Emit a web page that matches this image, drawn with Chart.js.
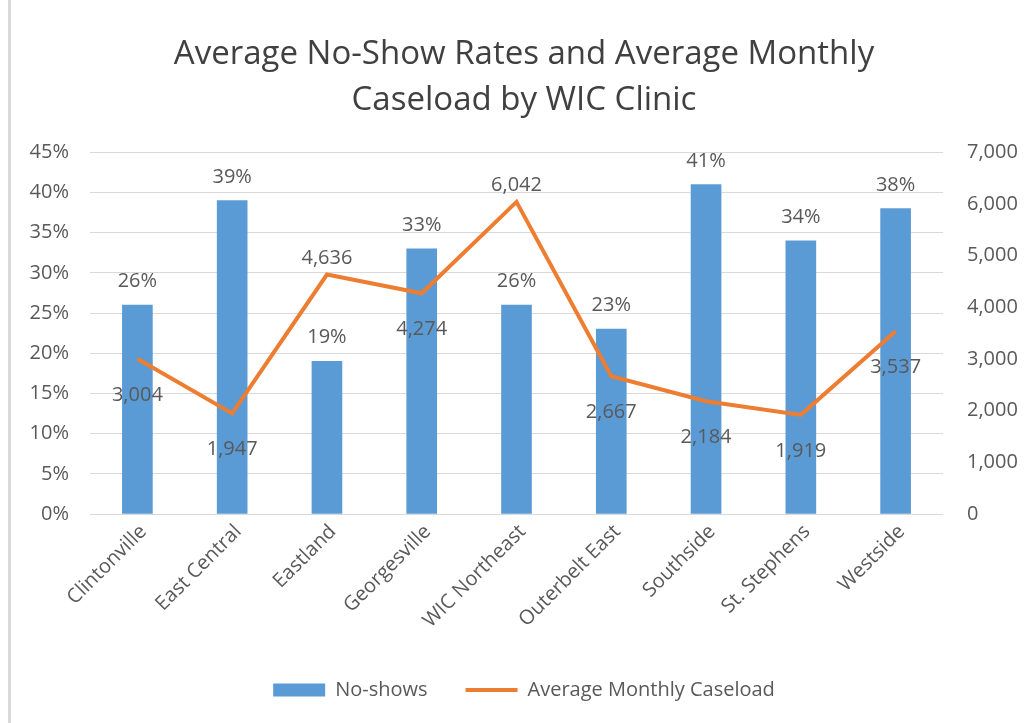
<!DOCTYPE html>
<html>
<head>
<meta charset="utf-8">
<title>Average No-Show Rates and Average Monthly Caseload by WIC Clinic</title>
<script src="https://cdn.jsdelivr.net/npm/chart.js@4.4.1/dist/chart.umd.min.js"></script>
<style>
  html, body { margin: 0; padding: 0; background: #fff; overflow: hidden; }
  #wrap { position: relative; width: 1024px; height: 723px; }
  #edge { position: absolute; left: 8px; top: 0; width: 3px; height: 723px; background: #d9d9d9; }
  canvas { position: absolute; left: 0; top: 0; }
</style>
</head>
<body>
<div id="wrap">
  <div id="edge"></div>
  <canvas id="wicChart" width="1024" height="723"></canvas>
</div>
<script>
// data
const clinics = ['Clintonville', 'East Central', 'Eastland', 'Georgesville', 'WIC Northeast',
  'Outerbelt East', 'Southside', 'St. Stephens', 'Westside'];
const noShows = [26, 39, 19, 33, 26, 23, 41, 34, 38];             // percent
const caseload = [3004, 1947, 4636, 4274, 6042, 2667, 2184, 1919, 3537];
const pctTicks = [0, 5, 10, 15, 20, 25, 30, 35, 40, 45];
const caseTicks = [0, 1000, 2000, 3000, 4000, 5000, 6000, 7000];

const FONT = '"Open Sans", "Noto Sans", sans-serif';
const GREY = '#595959';

// value labels: bars above, line below (above on local peaks)
const valueLabels = {
  id: 'valueLabels',
  afterDatasetsDraw(chart) {
    const ctx = chart.ctx;
    ctx.save();
    ctx.font = '20px ' + FONT;
    ctx.fillStyle = GREY;
    ctx.textAlign = 'center';
    ctx.textBaseline = 'alphabetic';
    chart.getDatasetMeta(0).data.forEach((bar, i) => {
      ctx.fillText(noShows[i] + '%', bar.x, bar.y - 18);
    });
    chart.getDatasetMeta(1).data.forEach((pt, i) => {
      const v = caseload[i];
      const peak = i > 0 && i < caseload.length - 1 && v > caseload[i - 1] && v > caseload[i + 1];
      ctx.fillText(v.toLocaleString('en-US'), pt.x, peak ? pt.y - 11 : pt.y + 42);
    });
    ctx.restore();
  }
};

new Chart(document.getElementById('wicChart'), {
  data: {
    labels: clinics,
    datasets: [{
      type: 'bar',
      label: 'No-shows',
      data: noShows,
      backgroundColor: '#5B9BD5',
      borderWidth: 0,
      barThickness: 30,
      yAxisID: 'y',
      pointStyle: 'rect',
      order: 2
    }, {
      type: 'line',
      label: 'Average Monthly Caseload',
      data: caseload,
      borderColor: '#ED7D31',
      backgroundColor: '#ED7D31',
      borderWidth: 4,
      pointRadius: 0,
      tension: 0,
      yAxisID: 'y1',
      pointStyle: 'line',
      order: 1
    }]
  },
  options: {
    responsive: false,
    devicePixelRatio: 1,
    animation: false,
    layout: { padding: { top: 0, right: 0, bottom: 13, left: 24 } },
    plugins: {
      title: {
        display: true,
        text: ['Average No-Show Rates and Average Monthly', 'Caseload by WIC Clinic'],
        color: '#404040',
        font: { family: FONT, size: 33, weight: 'normal', lineHeight: 1.4 },
        padding: { top: 31, bottom: 29 }
      },
      legend: {
        position: 'bottom',
        labels: {
          color: GREY,
          font: { family: FONT, size: 20 },
          usePointStyle: true,
          pointStyleWidth: 52,
          boxHeight: 13,
          padding: 38,
          sort: (a, b) => a.datasetIndex - b.datasetIndex
        }
      },
      tooltip: { enabled: false }
    },
    scales: {
      x: {
        offset: true,
        grid: { display: false },
        border: { display: false },
        ticks: {
          color: GREY,
          font: { family: FONT, size: 20 },
          maxRotation: 45,
          minRotation: 45,
          padding: -2,
          labelOffset: 6
        },
        afterFit: s => { s.height = 128; }
      },
      y: {
        position: 'left',
        min: 0,
        max: 45,
        afterBuildTicks: s => { s.ticks = pctTicks.map(v => ({ value: v })); },
        grid: { color: '#d9d9d9', lineWidth: 1, drawTicks: false },
        border: { display: false },
        ticks: {
          color: GREY,
          font: { family: FONT, size: 20 },
          padding: 21,
          callback: v => v + '%'
        },
        afterFit: s => { s.width = 66; }
      },
      y1: {
        position: 'right',
        min: 0,
        max: 7000,
        afterBuildTicks: s => { s.ticks = caseTicks.map(v => ({ value: v })); },
        grid: { display: false, drawTicks: false },
        border: { display: false },
        ticks: {
          color: GREY,
          font: { family: FONT, size: 20 },
          padding: 24,
          callback: v => v.toLocaleString('en-US')
        },
        afterFit: s => { s.width = 81; }
      }
    }
  },
  plugins: [valueLabels]
});
</script>
</body>
</html>
